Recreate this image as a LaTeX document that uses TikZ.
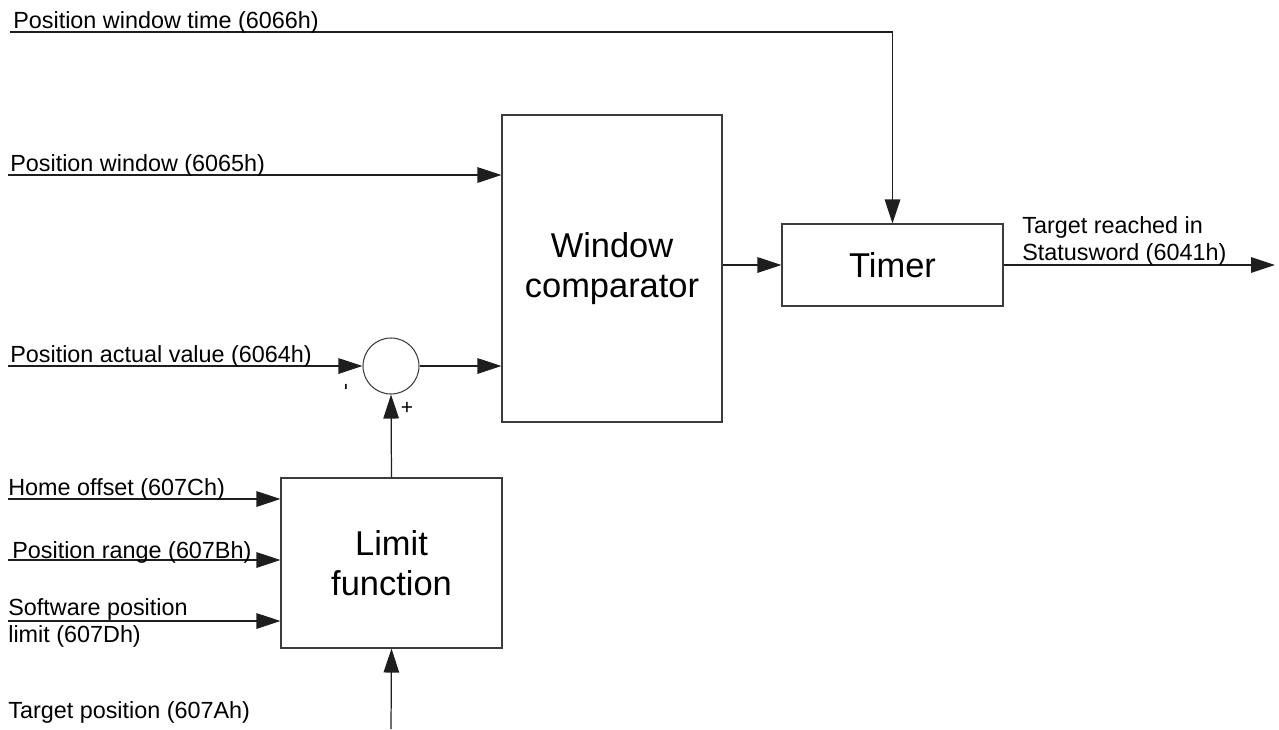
\documentclass[tikz,border=0pt]{standalone}
\usepackage{fontspec}
\setmainfont{Liberation Sans}
\usepackage{tikz}
\usetikzlibrary{arrows.meta}
\usepackage{xcolor}
\definecolor{ColLine}{RGB}{30,30,30}
\definecolor{ColBox}{RGB}{60,60,60}
\tikzstyle{BlockBox}=[rectangle,draw=ColBox,line width=0.6pt,inner sep=0pt,align=center,
font=\fontsize{19.6}{22.7}\selectfont]
\tikzstyle{SumNode}=[circle,draw=ColBox,line width=0.6pt,minimum size=1.12cm,inner sep=0pt]
\tikzstyle{SignalArrow}=[ColLine,line width=0.7pt,-{Triangle[length=4.8mm,width=3.1mm]}]
\tikzstyle{SignalLabel}=[anchor=base west,inner sep=0pt,align=left,
font=\fontsize{13.3}{14.8}\selectfont]

\begin{document}
\begin{tikzpicture}
        \useasboundingbox(0,0)rectangle(25.58,-14.58);
        % blocks
        \node[BlockBox,minimum width=4.4cm,minimum height=6.14cm](wc)at(12.24,-5.37){Window\\comparator};
        \node[BlockBox,minimum width=4.42cm,minimum height=1.64cm](timer)at(17.85,-5.3){Timer};
        \node[BlockBox,minimum width=4.42cm,minimum height=3.4cm](limit)at(7.83,-11.26){Limit\\function};
        \node[SumNode](sum)at(7.82,-7.32){};
        % free ends
        \coordinate(pwtIn)at(0.2,-0.64);
        \coordinate(pwIn)at(0.16,-3.5);
        \coordinate(pavIn)at(0.16,-7.32);
        \coordinate(hoIn)at(0.16,-9.98);
        \coordinate(prIn)at(0.16,-11.2);
        \coordinate(spIn)at(0.16,-12.42);
        \coordinate(tpIn)at(7.82,-14.58);
        \coordinate(srOut)at(25.5,-5.3);
        % signals
        \draw[SignalArrow](pwtIn)-|(timer.north);
        \draw[SignalArrow](pwIn)--(pwIn-|wc.west);
        \draw[SignalArrow](pavIn)--(sum.west);
        \draw[SignalArrow](sum.east)--(sum.east-|wc.west);
        \draw[SignalArrow](timer.west-|wc.east)--(timer.west);
        \draw[SignalArrow](timer.east)--(srOut);
        \draw[SignalArrow](limit.north)--(sum.south);
        \draw[SignalArrow](hoIn)--(hoIn-|limit.west);
        \draw[SignalArrow](prIn)--(prIn-|limit.west);
        \draw[SignalArrow](spIn)--(spIn-|limit.west);
        \draw[SignalArrow](tpIn)--(limit.south);
        % labels
        \node[SignalLabel](pwtText)at(0.26,-0.58){Position window time (6066h)};
        \node[SignalLabel](pwText)at(0.2,-3.42){Position window (6065h)};
        \node[SignalLabel](pavText)at(0.2,-7.24){Position actual value (6064h)};
        \node[SignalLabel](hoText)at(0.16,-9.9){Home offset (607Ch)};
        \node[SignalLabel](prText)at(0.24,-11.16){Position range (607Bh)};
        \node[SignalLabel](spText)at(0.16,-12.84){Software position\\limit (607Dh)};
        \node[SignalLabel](tpText)at(0.16,-14.36){Target position (607Ah)};
        \node[SignalLabel](srText)at(20.44,-5.2){Target reached in\\Statusword (6041h)};
        \node[inner sep=0pt,font=\fontsize{12}{14}\selectfont,rotate=90](minusSign)at(6.97,-7.74){-};
        \node[inner sep=0pt,font=\fontsize{12}{14}\selectfont](plusSign)at(8.14,-8.16){+};
    \end{tikzpicture}
\end{document}
